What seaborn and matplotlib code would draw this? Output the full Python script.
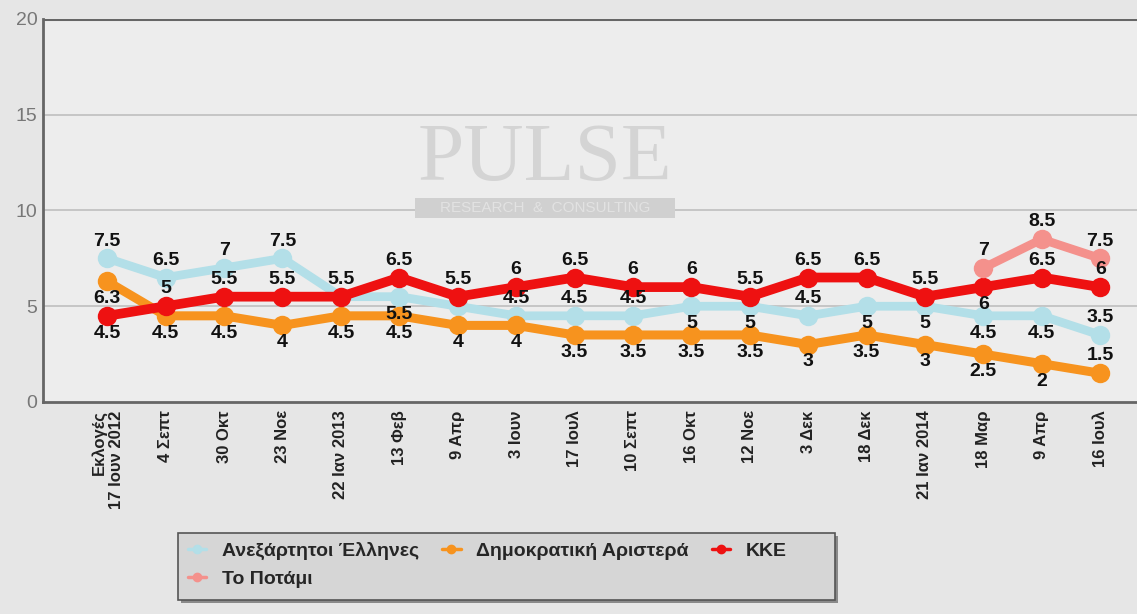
import numpy as np
import pandas as pd
import matplotlib
matplotlib.use("Agg")
import matplotlib.pyplot as plt
from matplotlib.lines import Line2D
from matplotlib.patches import Rectangle
import seaborn as sns

categories = ["Εκλογές\n17 Ιουν 2012", "4 Σεπτ", "30 Οκτ", "23 Νοε", "22 Ιαν 2013",
              "13 Φεβ", "9 Απρ", "3 Ιουν", "17 Ιουλ", "10 Σεπτ", "16 Οκτ", "12 Νοε",
              "3 Δεκ", "18 Δεκ", "21 Ιαν 2014", "18 Μαρ", "9 Απρ", "16 Ιουλ"]

anel = [7.5, 6.5, 7, 7.5, 5.5, 5.5, 5, 4.5, 4.5, 4.5, 5, 5, 4.5, 5, 5, 4.5, 4.5, 3.5]
dimar = [6.3, 4.5, 4.5, 4, 4.5, 4.5, 4, 4, 3.5, 3.5, 3.5, 3.5, 3, 3.5, 3, 2.5, 2, 1.5]
kke = [4.5, 5, 5.5, 5.5, 5.5, 6.5, 5.5, 6, 6.5, 6, 6, 5.5, 6.5, 6.5, 5.5, 6, 6.5, 6]
potami = [np.nan] * 15 + [7, 8.5, 7.5]

series_names = ["Ανεξάρτητοι Έλληνες", "Δημοκρατική Αριστερά", "ΚΚΕ", "Το Ποτάμι"]

# label placement style: 'a' above, 'b' below, '' hidden
anel_pos = list("aaaa") + [""] + ["b", ""] + list("aaa") + list("bb") + ["a"] + list("bbbb") + ["a"]
dimar_pos = ["b"] * 17 + ["a"]
kke_pos = ["b"] + ["a"] * 14 + ["b", "a", "a"]
potami_pos = [""] * 15 + ["a", "a", "a"]

colors = ["#b3dfe8", "#f7931e", "#ee1111", "#f4918c"]

sns.set_theme(style="white")
plt.rcParams["font.family"] = ["Liberation Sans", "DejaVu Sans"]

W, H = 1137, 614
fig = plt.figure(figsize=(W / 100, H / 100), dpi=100)
fig.patch.set_facecolor("#e6e6e6")
ax = fig.add_axes([43 / W, 1 - 402 / H, 1 - 43 / W, (402 - 19) / H])
ax.set_facecolor("#ededed")

x = np.arange(len(categories))
allvals = [anel, dimar, kke, potami]
allpos = [anel_pos, dimar_pos, kke_pos, potami_pos]
lws = [6.3, 6.5, 7.0, 6.3]
zs = [3, 4, 5, 6]

for vals, col, lw, z in zip(allvals, colors, lws, zs):
    sns.lineplot(x=x, y=vals, ax=ax, color=col, linewidth=lw, marker="o",
                 markersize=14, markeredgewidth=0, zorder=z, legend=False)

for vals, poss in zip(allvals, allpos):
    for xi, (v, p) in enumerate(zip(vals, poss)):
        if p == "" or np.isnan(v):
            continue
        off = 12.5 if p == "a" else -12.5
        ax.annotate(f"{v:g}", (xi, v), xytext=(0, off), textcoords="offset points",
                    ha="center", va="center", fontsize=14, fontweight="bold",
                    color="#111111", zorder=10)

# watermark
ax.text(0.459, 0.632, "PULSE", transform=ax.transAxes, ha="center", va="center",
        fontsize=60, family=["Liberation Serif", "DejaVu Serif"], color="#d4d4d4", zorder=1)
ax.add_patch(Rectangle(((415 - 43) / 1094, (402 - 218) / 383), 260 / 1094, 20 / 383,
                       transform=ax.transAxes, fc="#d0d0d0", ec="none", zorder=1))
ax.text(0.459, (402 - 208) / 383, "RESEARCH  &  CONSULTING", transform=ax.transAxes,
        ha="center", va="center", fontsize=11, color="#e2e2e2", zorder=1.1)

ax.set_ylim(0, 20)
ax.set_yticks([0, 5, 10, 15, 20])
ax.set_yticklabels(["0", "5", "10", "15", "20"], fontsize=14, color="#777777")
ax.set_xlim(-1.1, 17.63)
ax.set_xticks(x)
ax.set_xticklabels(categories, rotation=90, fontsize=12, fontweight="bold",
                   color="#222222", va="top", ha="center", multialignment="right")
ax.tick_params(axis="both", length=0)
ax.tick_params(axis="x", pad=6)
ax.tick_params(axis="y", pad=4)
ax.set_xlabel("")
ax.set_ylabel("")

for yv in [5, 10, 15]:
    ax.axhline(yv, color="#c2c2c2", lw=1.3, zorder=0.5)
ax.axhline(20, color="#666666", lw=2.2, zorder=0.6)
for s in ["right", "top"]:
    ax.spines[s].set_visible(False)
for s in ["left", "bottom"]:
    ax.spines[s].set_color("#666666")
    ax.spines[s].set_linewidth(2.0)

# legend box with shadow
fig.patches.append(Rectangle((181 / W, 1 - 603 / H), 657 / W, 67 / H, transform=fig.transFigure,
                             fc="#8a8a8a", ec="none", zorder=0))
fig.patches.append(Rectangle((178 / W, 1 - 600 / H), 657 / W, 67 / H, transform=fig.transFigure,
                             fc="#d6d6d6", ec="#555555", lw=1.2, zorder=0.5))

handles = [Line2D([], [], color=c, lw=2.5, marker="o", ms=6) for c in colors]
order = [0, 3, 1, 2]
leg = fig.legend([handles[i] for i in order], [series_names[i] for i in order],
                 loc="upper left", bbox_to_anchor=(172 / W, 1 - 526 / H),
                 ncol=3, frameon=False,
                 prop={"weight": "bold", "size": 14}, handlelength=0.95,
                 columnspacing=1.2, handletextpad=0.8, borderpad=0.3, labelspacing=0.55)

fig.savefig("out.png", dpi=100, facecolor=fig.get_facecolor())
